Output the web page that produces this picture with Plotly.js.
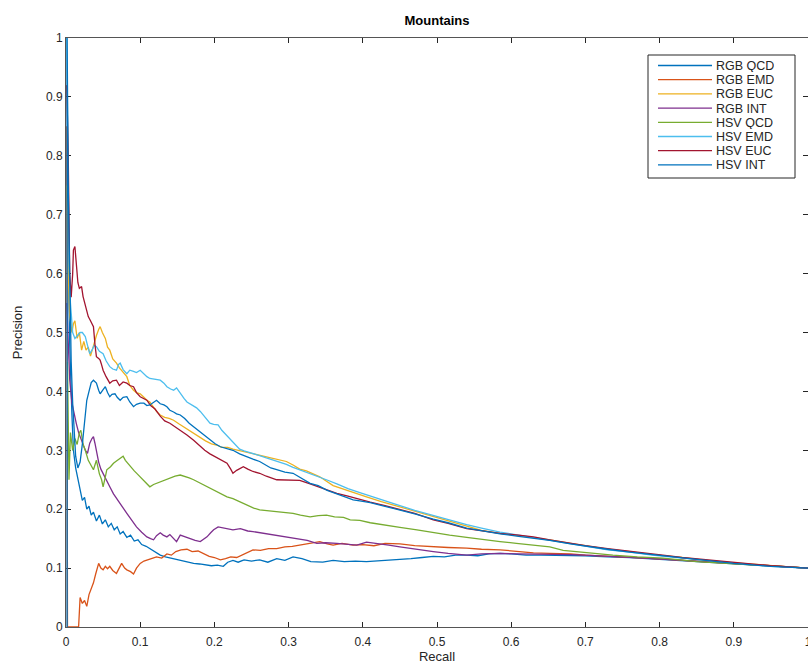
<!DOCTYPE html>
<html>
<head>
<meta charset="utf-8">
<script src="https://cdn.plot.ly/plotly-3.0.1.min.js"></script>
<style>
  html, body { margin: 0; padding: 0; background: #fff; }
  #chart { width: 808px; height: 669px; }
</style>
</head>
<body>
<div id="chart"></div>
<script>
// Precision-recall curves for the "Mountains" query class.
const seriesNames = ['RGB QCD', 'RGB EMD', 'RGB EUC', 'RGB INT', 'HSV QCD', 'HSV EMD', 'HSV EUC', 'HSV INT'];
const seriesColors = ['#0072BD', '#D95319', '#EDB120', '#7E2F8E', '#77AC30', '#4DBEEE', '#A2142F', '#0072BD'];

const rgbQcdRecall = [0.001,0.003,0.005,0.008,0.010,0.013,0.016,0.019,0.022,0.025,0.028,0.031,0.034,0.037,0.041,0.045,0.049,0.053,0.057,0.061,0.065,0.069,0.073,0.077,0.082,0.087,0.092,0.097,0.102,0.108,0.114,0.120,0.127,0.134,0.141,0.149,0.157,0.165,0.172,0.180,0.188,0.196,0.204,0.212,0.218,0.225,0.232,0.240,0.250,0.261,0.272,0.284,0.295,0.306,0.318,0.330,0.346,0.360,0.375,0.390,0.405,0.420,0.435,0.450,0.465,0.480,0.495,0.510,0.525,0.540,0.555,0.570,0.585,0.600,0.620,0.640,0.652,0.670,0.700,0.730,0.760,0.800,0.850,0.900,0.950,1.0];
const rgbQcdPrecision = [0.75,0.62,0.48,0.36,0.30,0.27,0.25,0.235,0.215,0.22,0.20,0.205,0.19,0.195,0.18,0.19,0.175,0.182,0.17,0.176,0.165,0.17,0.158,0.162,0.152,0.156,0.146,0.148,0.14,0.137,0.132,0.128,0.122,0.119,0.117,0.114,0.112,0.110,0.108,0.107,0.106,0.104,0.105,0.103,0.110,0.113,0.110,0.114,0.112,0.114,0.110,0.116,0.113,0.119,0.116,0.111,0.110,0.113,0.111,0.112,0.111,0.112,0.113,0.114,0.116,0.118,0.120,0.119,0.122,0.122,0.121,0.124,0.125,0.124,0.122,0.122,0.122,0.121,0.121,0.119,0.118,0.115,0.111,0.107,0.103,0.1];

const rgbEmdRecall = [0.001,0.002,0.015,0.017,0.019,0.022,0.025,0.028,0.031,0.034,0.037,0.040,0.044,0.047,0.050,0.053,0.056,0.059,0.063,0.068,0.072,0.075,0.079,0.082,0.087,0.091,0.095,0.100,0.105,0.109,0.115,0.122,0.129,0.136,0.142,0.148,0.155,0.163,0.170,0.178,0.185,0.193,0.200,0.208,0.215,0.222,0.230,0.240,0.252,0.262,0.273,0.284,0.295,0.305,0.315,0.328,0.342,0.352,0.360,0.372,0.387,0.400,0.415,0.430,0.450,0.470,0.495,0.515,0.540,0.560,0.585,0.610,0.630,0.652,0.680,0.700,0.740,0.780,0.820,0.860,0.900,0.950,1.0];
const rgbEmdPrecision = [0.85,0.0,0.0,0.0,0.05,0.04,0.045,0.035,0.055,0.065,0.075,0.09,0.108,0.100,0.097,0.103,0.099,0.103,0.096,0.091,0.100,0.108,0.100,0.097,0.094,0.090,0.100,0.108,0.112,0.114,0.116,0.119,0.117,0.124,0.122,0.128,0.131,0.132,0.128,0.129,0.125,0.120,0.118,0.114,0.116,0.119,0.118,0.124,0.131,0.130,0.133,0.133,0.136,0.137,0.139,0.142,0.145,0.141,0.139,0.142,0.139,0.140,0.138,0.142,0.141,0.138,0.136,0.135,0.134,0.132,0.131,0.128,0.126,0.125,0.124,0.122,0.120,0.117,0.114,0.111,0.107,0.103,0.1];

const rgbEucRecall = [0.001,0.003,0.005,0.008,0.010,0.012,0.015,0.018,0.021,0.024,0.027,0.030,0.033,0.037,0.041,0.044,0.046,0.049,0.053,0.056,0.059,0.063,0.068,0.072,0.077,0.082,0.086,0.091,0.095,0.100,0.105,0.109,0.113,0.118,0.122,0.127,0.133,0.139,0.145,0.152,0.158,0.165,0.172,0.180,0.188,0.196,0.203,0.210,0.218,0.225,0.232,0.240,0.250,0.261,0.270,0.280,0.290,0.297,0.306,0.315,0.324,0.333,0.342,0.360,0.380,0.405,0.425,0.450,0.470,0.495,0.515,0.540,0.560,0.585,0.610,0.630,0.652,0.680,0.700,0.730,0.760,0.790,0.830,0.870,0.900,0.950,1.0];
const rgbEucPrecision = [0.75,0.60,0.53,0.50,0.515,0.52,0.49,0.50,0.47,0.485,0.47,0.475,0.46,0.48,0.495,0.505,0.51,0.50,0.49,0.475,0.47,0.455,0.448,0.44,0.432,0.425,0.41,0.402,0.398,0.396,0.39,0.385,0.382,0.372,0.366,0.360,0.356,0.354,0.351,0.345,0.340,0.335,0.329,0.322,0.316,0.311,0.309,0.305,0.305,0.302,0.300,0.298,0.295,0.292,0.289,0.286,0.283,0.281,0.275,0.268,0.265,0.260,0.255,0.240,0.231,0.221,0.213,0.204,0.196,0.187,0.180,0.171,0.164,0.159,0.155,0.152,0.148,0.142,0.138,0.132,0.128,0.123,0.118,0.112,0.109,0.104,0.1];

const rgbIntRecall = [0.001,0.003,0.005,0.008,0.011,0.014,0.017,0.020,0.023,0.026,0.029,0.032,0.035,0.037,0.039,0.041,0.044,0.047,0.050,0.054,0.059,0.064,0.070,0.076,0.082,0.088,0.095,0.102,0.109,0.114,0.118,0.122,0.127,0.131,0.136,0.140,0.145,0.149,0.154,0.160,0.167,0.174,0.181,0.186,0.190,0.195,0.199,0.205,0.212,0.218,0.225,0.235,0.245,0.252,0.262,0.272,0.284,0.295,0.305,0.315,0.325,0.338,0.350,0.365,0.380,0.392,0.405,0.420,0.435,0.450,0.470,0.495,0.515,0.540,0.560,0.585,0.610,0.630,0.652,0.680,0.700,0.740,0.780,0.820,0.860,0.900,0.950,1.0];
const rgbIntPrecision = [0.55,0.48,0.42,0.38,0.36,0.345,0.33,0.32,0.31,0.30,0.295,0.312,0.320,0.323,0.312,0.296,0.280,0.268,0.260,0.249,0.238,0.226,0.216,0.204,0.193,0.182,0.170,0.161,0.153,0.150,0.148,0.155,0.160,0.156,0.153,0.157,0.150,0.145,0.156,0.153,0.150,0.147,0.145,0.150,0.153,0.160,0.165,0.170,0.168,0.166,0.165,0.167,0.163,0.162,0.160,0.158,0.156,0.154,0.152,0.150,0.147,0.142,0.143,0.142,0.141,0.139,0.144,0.142,0.139,0.136,0.132,0.128,0.125,0.122,0.124,0.125,0.124,0.124,0.124,0.123,0.122,0.120,0.117,0.114,0.111,0.107,0.103,0.1];

const hsvQcdRecall = [0.002,0.004,0.006,0.009,0.012,0.015,0.018,0.020,0.023,0.026,0.030,0.034,0.037,0.041,0.045,0.048,0.050,0.053,0.055,0.060,0.064,0.068,0.073,0.077,0.080,0.084,0.088,0.092,0.096,0.100,0.105,0.109,0.113,0.118,0.122,0.127,0.133,0.140,0.147,0.154,0.160,0.166,0.172,0.180,0.187,0.194,0.202,0.210,0.217,0.225,0.232,0.239,0.246,0.253,0.261,0.270,0.284,0.295,0.306,0.316,0.329,0.340,0.351,0.362,0.374,0.383,0.396,0.410,0.428,0.450,0.473,0.495,0.517,0.540,0.562,0.585,0.607,0.630,0.652,0.670,0.700,0.737,0.770,0.805,0.850,0.900,0.950,1.0];
const hsvQcdPrecision = [0.45,0.25,0.33,0.30,0.32,0.31,0.33,0.334,0.31,0.30,0.283,0.275,0.267,0.283,0.26,0.25,0.238,0.255,0.267,0.272,0.278,0.282,0.286,0.290,0.283,0.277,0.270,0.265,0.260,0.255,0.248,0.242,0.238,0.242,0.244,0.246,0.249,0.252,0.256,0.258,0.256,0.253,0.250,0.245,0.240,0.235,0.230,0.225,0.221,0.218,0.214,0.210,0.206,0.202,0.199,0.198,0.196,0.194,0.193,0.190,0.187,0.189,0.190,0.187,0.186,0.182,0.181,0.177,0.173,0.169,0.165,0.160,0.156,0.152,0.148,0.145,0.142,0.139,0.136,0.130,0.126,0.122,0.119,0.117,0.111,0.107,0.103,0.1];

const hsvEmdRecall = [0.001,0.002,0.004,0.006,0.009,0.012,0.015,0.019,0.022,0.026,0.029,0.032,0.035,0.038,0.041,0.045,0.050,0.054,0.059,0.063,0.068,0.071,0.073,0.077,0.082,0.086,0.091,0.095,0.100,0.105,0.109,0.113,0.118,0.122,0.127,0.132,0.136,0.141,0.145,0.149,0.154,0.159,0.163,0.168,0.172,0.176,0.181,0.186,0.190,0.194,0.199,0.205,0.210,0.216,0.221,0.228,0.234,0.240,0.248,0.255,0.261,0.270,0.280,0.288,0.297,0.306,0.315,0.325,0.338,0.351,0.365,0.380,0.396,0.410,0.430,0.450,0.470,0.495,0.515,0.540,0.560,0.585,0.610,0.630,0.652,0.680,0.700,0.730,0.760,0.790,0.830,0.870,0.900,0.950,1.0];
const hsvEmdPrecision = [1.0,0.85,0.62,0.55,0.50,0.49,0.495,0.50,0.50,0.493,0.478,0.464,0.47,0.478,0.476,0.468,0.464,0.452,0.442,0.438,0.436,0.446,0.448,0.437,0.430,0.436,0.434,0.432,0.436,0.43,0.425,0.422,0.421,0.419,0.419,0.414,0.408,0.404,0.402,0.406,0.396,0.388,0.382,0.378,0.376,0.372,0.366,0.358,0.352,0.346,0.344,0.343,0.334,0.326,0.320,0.310,0.302,0.299,0.296,0.294,0.291,0.287,0.283,0.280,0.276,0.271,0.267,0.262,0.256,0.250,0.243,0.235,0.228,0.222,0.214,0.206,0.198,0.189,0.182,0.174,0.168,0.161,0.156,0.152,0.147,0.141,0.137,0.131,0.127,0.122,0.117,0.112,0.108,0.103,0.1];

const hsvEucRecall = [0.001,0.003,0.005,0.007,0.009,0.010,0.012,0.014,0.016,0.018,0.021,0.023,0.026,0.030,0.033,0.037,0.039,0.041,0.044,0.046,0.048,0.050,0.054,0.059,0.063,0.068,0.072,0.077,0.082,0.086,0.091,0.095,0.100,0.105,0.109,0.114,0.120,0.127,0.133,0.140,0.147,0.154,0.163,0.172,0.180,0.187,0.194,0.200,0.208,0.217,0.222,0.225,0.230,0.239,0.245,0.252,0.261,0.270,0.284,0.295,0.306,0.315,0.329,0.340,0.351,0.365,0.380,0.396,0.410,0.430,0.450,0.470,0.495,0.515,0.540,0.560,0.585,0.610,0.630,0.652,0.680,0.700,0.730,0.760,0.790,0.830,0.870,0.900,0.950,1.0];
const hsvEucPrecision = [0.92,0.80,0.60,0.56,0.60,0.64,0.646,0.62,0.585,0.575,0.578,0.561,0.545,0.527,0.52,0.51,0.48,0.459,0.456,0.453,0.445,0.436,0.425,0.414,0.418,0.419,0.410,0.416,0.414,0.41,0.408,0.398,0.391,0.388,0.385,0.376,0.370,0.358,0.350,0.346,0.340,0.334,0.326,0.317,0.308,0.300,0.294,0.290,0.284,0.278,0.268,0.261,0.266,0.272,0.268,0.264,0.261,0.256,0.250,0.250,0.250,0.249,0.243,0.238,0.233,0.227,0.222,0.216,0.212,0.206,0.199,0.193,0.182,0.176,0.167,0.163,0.159,0.156,0.153,0.148,0.142,0.138,0.133,0.128,0.124,0.118,0.113,0.109,0.104,0.1];

const hsvIntRecall = [0.0015,0.0015,0.003,0.005,0.007,0.009,0.011,0.013,0.016,0.019,0.022,0.025,0.028,0.031,0.034,0.037,0.041,0.044,0.046,0.050,0.053,0.056,0.059,0.062,0.066,0.069,0.073,0.077,0.082,0.086,0.091,0.095,0.100,0.105,0.109,0.113,0.118,0.122,0.127,0.132,0.136,0.140,0.145,0.149,0.154,0.160,0.166,0.172,0.178,0.184,0.190,0.195,0.201,0.208,0.214,0.220,0.225,0.234,0.243,0.252,0.261,0.268,0.276,0.284,0.295,0.306,0.316,0.329,0.340,0.352,0.365,0.375,0.387,0.396,0.410,0.430,0.450,0.470,0.495,0.515,0.540,0.560,0.585,0.610,0.630,0.652,0.680,0.700,0.730,0.760,0.790,0.830,0.870,0.900,0.950,1.0];
const hsvIntPrecision = [0.0,1.0,0.75,0.55,0.45,0.38,0.33,0.29,0.27,0.28,0.31,0.35,0.385,0.40,0.415,0.419,0.414,0.402,0.396,0.403,0.408,0.398,0.391,0.395,0.396,0.39,0.385,0.39,0.391,0.382,0.374,0.378,0.380,0.38,0.376,0.377,0.381,0.385,0.379,0.377,0.374,0.368,0.365,0.362,0.360,0.354,0.346,0.340,0.334,0.328,0.323,0.318,0.311,0.306,0.304,0.302,0.300,0.294,0.289,0.285,0.281,0.276,0.270,0.267,0.263,0.261,0.253,0.244,0.240,0.232,0.226,0.222,0.216,0.214,0.211,0.205,0.199,0.192,0.183,0.177,0.168,0.163,0.158,0.154,0.151,0.147,0.141,0.137,0.132,0.127,0.123,0.118,0.112,0.108,0.103,0.1];

const tickValues = [0,0.1,0.2,0.3,0.4,0.5,0.6,0.7,0.8,0.9,1];
const tickLabels = ['0','0.1','0.2','0.3','0.4','0.5','0.6','0.7','0.8','0.9','1'];

const recallSets = [rgbQcdRecall, rgbEmdRecall, rgbEucRecall, rgbIntRecall, hsvQcdRecall, hsvEmdRecall, hsvEucRecall, hsvIntRecall];
const precisionSets = [rgbQcdPrecision, rgbEmdPrecision, rgbEucPrecision, rgbIntPrecision, hsvQcdPrecision, hsvEmdPrecision, hsvEucPrecision, hsvIntPrecision];

// Page geometry of the plotting box, in pixels.
const W = 808, H = 669;
const box = { left: 66, right: 808, top: 38, bottom: 627 };
const px2x = p => (p - box.left) / (box.right - box.left);
const px2y = p => (box.bottom - p) / (box.bottom - box.top);

const FONT = 'Liberation Sans, Arial, sans-serif';
const INK = '#262626';

const traces = seriesNames.map((name, i) => ({
  type: 'scatter',
  mode: 'lines',
  name: name,
  x: recallSets[i],
  y: precisionSets[i],
  line: { color: seriesColors[i], width: 1.3 },
  showlegend: false,
  hoverinfo: 'x+y+name'
}));

// Boxed legend in the upper-right corner, MATLAB style.
const legend = { left: 648, right: 795, top: 55, bottom: 178, lineX0: 658, lineX1: 712, textX: 715, firstRow: 65.5, rowStep: 14.2 };
const shapes = [{
  type: 'rect', xref: 'paper', yref: 'paper',
  x0: px2x(legend.left), x1: px2x(legend.right),
  y0: px2y(legend.bottom), y1: px2y(legend.top),
  line: { color: INK, width: 1 }, fillcolor: '#ffffff', layer: 'above'
}];
const annotations = [];
seriesNames.forEach((name, i) => {
  const rowY = px2y(legend.firstRow + i * legend.rowStep);
  shapes.push({
    type: 'line', xref: 'paper', yref: 'paper',
    x0: px2x(legend.lineX0), x1: px2x(legend.lineX1), y0: rowY, y1: rowY,
    line: { color: seriesColors[i], width: 1.3 }, layer: 'above'
  });
  annotations.push({
    xref: 'paper', yref: 'paper', x: px2x(legend.textX), y: rowY,
    xanchor: 'left', yanchor: 'middle', showarrow: false,
    height: 13, borderpad: 0, valign: 'middle',
    text: name, font: { family: FONT, size: 12.5, color: INK }
  });
});

const axisCommon = {
  range: [0, 1],
  tickmode: 'array',
  tickvals: tickValues,
  ticktext: tickLabels,
  ticks: 'inside',
  ticklen: 5,
  tickwidth: 1,
  tickcolor: INK,
  showline: true,
  linecolor: '#555555',
  linewidth: 1,
  mirror: 'ticks',
  showgrid: false,
  zeroline: false,
  layer: 'below traces',
  ticklabeloverflow: 'allow',
  tickfont: { family: FONT, size: 12, color: INK },
  automargin: false
};

const layout = {
  width: W,
  height: H,
  margin: { l: box.left, r: W - box.right, t: box.top, b: H - box.bottom, pad: 0 },
  paper_bgcolor: '#ffffff',
  plot_bgcolor: '#ffffff',
  font: { family: FONT, color: INK },
  title: {
    text: '<b>Mountains</b>',
    font: { family: FONT, size: 13, color: '#000000' },
    x: 0.5, xref: 'paper', xanchor: 'center',
    y: 1 - 20 / H, yref: 'container', yanchor: 'middle'
  },
  xaxis: Object.assign({}, axisCommon, {
    ticklabelstandoff: 4,
    title: { text: 'Recall', font: { family: FONT, size: 13, color: INK }, standoff: 2 }
  }),
  yaxis: Object.assign({}, axisCommon, {
    title: { text: 'Precision', font: { family: FONT, size: 13, color: INK }, standoff: 20 }
  }),
  shapes: shapes,
  annotations: annotations,
  showlegend: false
};

Plotly.newPlot('chart', traces, layout, { staticPlot: true, displayModeBar: false });
</script>
</body>
</html>
